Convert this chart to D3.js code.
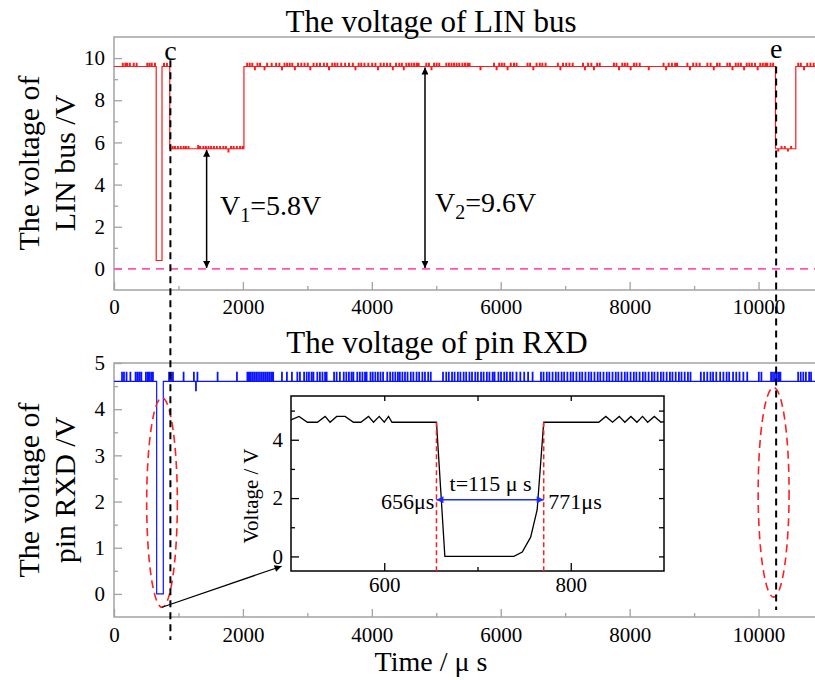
<!DOCTYPE html>
<html>
<head>
<meta charset="utf-8">
<script src="https://cdn.jsdelivr.net/npm/d3@7"></script>
<style>
  body { margin: 0; background: #fff; }
  svg text { font-family: "Liberation Serif", "Tinos", "Times New Roman", "Nimbus Roman", "DejaVu Serif", serif; }
</style>
</head>
<body>
<svg id="chart" width="815" height="680"></svg>
<script>
// --- LIN bus voltage: base levels [time µs, V] and noise spikes [time µs, V] ---
const lin_levels = [[0, 9.6], [655, 0.4], [745, 9.6], [865, 5.7], [2016, 9.6], [10263, 5.7], [10578, 9.6], [11000, 9.6]];
const lin_spikes = [
  [130, 9.75], [170, 9.75], [200, 9.75], [240, 9.75], [300, 9.75], [345, 9.75], [510, 9.75], [545, 9.75], [580, 9.75], [630, 9.75],
  [770, 9.75], [815, 9.75],
  [905, 5.8], [940, 5.8], [985, 5.8], [1030, 5.8], [1075, 5.8], [1110, 5.8], [1150, 5.8], [1300, 5.85], [1330, 5.8], [1380, 5.8],
  [1420, 5.8], [1460, 5.8], [1500, 5.8], [1545, 5.8], [1590, 5.8], [1640, 5.8], [1690, 5.8], [1730, 5.8], [1770, 5.55], [1810, 5.8],
  [1850, 5.8], [1900, 5.8], [1950, 5.8], [1990, 5.8],
  [2060, 9.75], [2100, 9.75], [2140, 9.75], [2180, 9.45], [2220, 9.75], [2260, 9.75], [2330, 9.45], [2370, 9.75], [2440, 9.75],
  [2510, 9.75], [2560, 9.75], [2600, 9.45], [2640, 9.75], [2680, 9.75], [2720, 9.75], [2760, 9.75], [2800, 9.45], [2850, 9.75],
  [2900, 9.75], [2950, 9.75], [3000, 9.75], [3040, 9.45], [3090, 9.75], [3140, 9.75], [3190, 9.75], [3250, 9.75], [3300, 9.75],
  [3330, 9.45], [3380, 9.75], [3420, 9.75], [3460, 9.75], [3520, 9.75], [3580, 9.75], [3640, 9.75], [3700, 9.75], [3740, 9.45],
  [3790, 9.75], [3830, 9.75], [3880, 9.75], [3940, 9.75], [4000, 9.75], [4050, 9.75], [4090, 9.45], [4130, 9.75], [4180, 9.75],
  [4230, 9.75], [4280, 9.75], [4320, 9.45], [4370, 9.75], [4420, 9.75],
  [4460, 9.75], [4490, 9.45], [4530, 9.75], [4570, 9.75], [4610, 9.75], [4650, 9.75], [4690, 9.75], [4720, 9.75],
  [4840, 9.75], [4880, 9.75], [4920, 9.45], [4960, 9.75], [5000, 9.75], [5040, 9.75],
  [5150, 9.75], [5190, 9.75], [5230, 9.75], [5270, 9.75], [5310, 9.75], [5350, 9.75], [5400, 9.75], [5440, 9.75], [5480, 9.75], [5510, 9.75],
  [5680, 9.45],
  [5890, 9.75], [5930, 9.45], [5970, 9.75], [6010, 9.75], [6050, 9.75], [6100, 9.45], [6150, 9.75], [6200, 9.75], [6240, 9.75],
  [6410, 9.75], [6450, 9.75], [6500, 9.45], [6550, 9.75], [6600, 9.75], [6640, 9.75], [6690, 9.75],
  [6880, 9.75], [6920, 9.45], [6960, 9.75], [7010, 9.75], [7060, 9.75], [7110, 9.75],
  [7270, 9.75], [7300, 9.45], [7350, 9.75], [7400, 9.75], [7440, 9.45], [7490, 9.75], [7530, 9.75],
  [7750, 9.75], [7790, 9.75], [7830, 9.45], [7880, 9.75], [7920, 9.75], [7960, 9.75], [8010, 9.45], [8060, 9.75], [8100, 9.75], [8150, 9.75],
  [8290, 9.45],
  [8520, 9.75], [8560, 9.45], [8600, 9.75], [8650, 9.75], [8700, 9.75], [8730, 9.75],
  [8890, 9.75], [8930, 9.45], [8980, 9.75], [9030, 9.75], [9080, 9.75],
  [9200, 9.75], [9250, 9.75], [9300, 9.45], [9350, 9.75], [9390, 9.75],
  [9510, 9.75], [9550, 9.75], [9590, 9.45], [9640, 9.75], [9680, 9.75], [9720, 9.75], [9770, 9.45], [9810, 9.75], [9850, 9.75],
  [9890, 9.75], [9940, 9.75], [9980, 9.45], [10020, 9.75], [10060, 9.75], [10100, 9.75], [10130, 9.75], [10180, 9.75], [10220, 9.75],
  [10300, 5.6], [10350, 5.8], [10400, 5.8], [10450, 5.6], [10500, 5.8],
  [10610, 9.75], [10650, 9.75], [10700, 9.45], [10750, 9.75], [10800, 9.75], [10850, 9.75]
];

// --- RXD pin voltage ---
const rxd_levels = [[0, 4.6], [662, 0], [765, 4.6], [11000, 4.6]];
const rxd_spikes = [
  [120, 4.8], [150, 4.8], [190, 4.8], [250, 4.8], [330, 4.8], [360, 4.8], [390, 4.8], [420, 4.8],
  [490, 4.8], [520, 4.8], [545, 4.8], [575, 4.8], [600, 4.8],
  [850, 4.8], [880, 4.8], [910, 4.8], [1075, 4.8], [1235, 4.8], [1267, 4.4], [1290, 4.8], [1603, 4.8], [1903, 4.8],
  [2065, 4.8], [2090, 4.8], [2110, 4.8], [2140, 4.8], [2170, 4.8], [2200, 4.8], [2230, 4.8], [2260, 4.8], [2290, 4.8],
  [2320, 4.8], [2350, 4.8], [2380, 4.8], [2410, 4.8], [2440, 4.8], [2465, 4.8],
  [2601, 4.8], [2678, 4.8], [2756, 4.8], [2840, 4.8], [2880, 4.8], [2945, 4.8], [2985, 4.8], [3020, 4.8], [3060, 4.8], [3090, 4.8],
  [3150, 4.8], [3190, 4.8], [3230, 4.8], [3270, 4.8], [3295, 4.8], [3410, 4.8], [3450, 4.8], [3500, 4.8],
  [3560, 4.8], [3600, 4.8], [3640, 4.8], [3680, 4.8], [3710, 4.8], [3770, 4.8], [3810, 4.8], [3850, 4.8], [3890, 4.8], [3915, 4.8],
  [3975, 4.8], [4010, 4.8], [4050, 4.8], [4090, 4.8], [4130, 4.8], [4170, 4.8], [4235, 4.8], [4280, 4.8], [4320, 4.8], [4360, 4.8],
  [4400, 4.8], [4430, 4.8],
  [4470, 4.8], [4510, 4.8], [4550, 4.8], [4600, 4.8], [4640, 4.8], [4690, 4.8], [4730, 4.8], [4780, 4.8], [4820, 4.8], [4870, 4.8], [4910, 4.8],
  [5100, 4.8], [5150, 4.8], [5190, 4.8], [5240, 4.8], [5280, 4.8], [5330, 4.8], [5370, 4.8], [5420, 4.8], [5460, 4.8], [5510, 4.8],
  [5550, 4.8], [5600, 4.8], [5640, 4.8], [5690, 4.8], [5730, 4.8], [5780, 4.8], [5820, 4.8], [5870, 4.8], [5900, 4.8], [5960, 4.8],
  [6000, 4.8], [6050, 4.8], [6090, 4.8], [6140, 4.8], [6180, 4.8], [6240, 4.8], [6300, 4.8], [6360, 4.8], [6420, 4.8], [6490, 4.8],
  [6620, 4.8], [6660, 4.8], [6710, 4.8], [6750, 4.8], [6800, 4.8], [6850, 4.8], [6890, 4.8], [6940, 4.8], [6980, 4.8], [7030, 4.8],
  [7080, 4.8], [7120, 4.8], [7170, 4.8], [7220, 4.8], [7260, 4.8], [7310, 4.8], [7360, 4.8], [7400, 4.8], [7450, 4.8], [7500, 4.8],
  [7540, 4.8], [7590, 4.8], [7640, 4.8], [7680, 4.8], [7730, 4.8], [7780, 4.8], [7820, 4.8], [7870, 4.8], [7920, 4.8], [7960, 4.8],
  [8010, 4.8], [8060, 4.8], [8100, 4.8], [8150, 4.8], [8200, 4.8], [8240, 4.8], [8290, 4.8], [8340, 4.8], [8380, 4.8], [8430, 4.8],
  [8480, 4.8], [8520, 4.8], [8570, 4.8], [8620, 4.8], [8660, 4.8], [8710, 4.8], [8760, 4.8], [8800, 4.8], [8850, 4.8], [8900, 4.8], [8940, 4.8],
  [9100, 4.8], [9150, 4.8], [9200, 4.8], [9250, 4.8], [9290, 4.8], [9340, 4.8], [9400, 4.8], [9450, 4.8], [9500, 4.8], [9540, 4.8],
  [9600, 4.8], [9650, 4.8], [9700, 4.8], [9760, 4.8], [9820, 4.8],
  [10000, 4.8], [10040, 4.8], [10190, 4.8], [10220, 4.8], [10250, 4.8], [10280, 4.8], [10310, 4.8], [10335, 4.8],
  [10610, 4.8], [10650, 4.8], [10690, 4.8], [10730, 4.8], [10780, 4.8], [10810, 4.8]
];

// --- zoomed RXD edge (inset) ---
const inset_time = [500, 508.6, 517.6, 528.3, 536.6, 541.9, 549, 558, 567, 574.9, 583.1, 588.5, 594.6, 600, 604.6, 608.3,
  656, 665, 739, 748, 757, 764, 771, 830, 837.6, 844.8, 852, 858, 864.5, 871, 877, 882.5, 889.6, 896.8, 900];
const inset_volt = [4.68, 4.8, 4.6, 4.6, 4.8, 4.6, 4.8, 4.8, 4.6, 4.6, 4.8, 4.6, 4.8, 4.6, 4.8, 4.6,
  4.6, 0, 0, 0.15, 0.66, 1.6, 4.6, 4.6, 4.8, 4.6, 4.8, 4.6, 4.8, 4.6, 4.8, 4.6, 4.8, 4.6, 4.62];
const inset_edges = [656, 771];

// --- ticks ---
const main_x_ticks = [0, 2000, 4000, 6000, 8000, 10000];
const main_x_minor = [1000, 3000, 5000, 7000, 9000];
const lin_y_ticks = [0, 2, 4, 6, 8, 10];
const lin_y_minor = [1, 3, 5, 7, 9];
const rxd_y_ticks = [0, 1, 2, 3, 4, 5];
const rxd_y_minor = [0.5, 1.5, 2.5, 3.5, 4.5];
const inset_x_ticks = [600, 800];
const inset_x_minor = [700];
const inset_y_ticks = [0, 2, 4];
const inset_y_minor = [1, 3, 5];

// markers c / e
const markers = [{label: "c", time: 875, y_top: 9.9, y_bottom: -1.0, text_y: 9.93},
                 {label: "e", time: 10273, y_top: 9.6, y_bottom: -0.35, text_y: 10.0}];

const FONT = '"Liberation Serif", "Tinos", "Times New Roman", "Nimbus Roman", "DejaVu Serif", serif';
const svg = d3.select("#chart");

// arrow heads
const defs = svg.append("defs");
[["head_black", "#000"], ["head_blue", "#1a2cff"]].forEach(([id, color]) => {
  defs.append("marker")
      .attr("id", id)
      .attr("viewBox", "0 0 10 10")
      .attr("refX", 10)
      .attr("refY", 5)
      .attr("markerWidth", 9)
      .attr("markerHeight", 7)
      .attr("markerUnits", "userSpaceOnUse")
      .attr("orient", "auto-start-reverse")
      .append("path")
        .attr("d", "M0,0 L10,5 L0,10 Z")
        .attr("fill", color);
});

class Panel {
  constructor(x, y, frame_color){
    this.x = x;
    this.y = y;
    this.frame_color = frame_color;
    this.g = svg.append("g");
  }
  draw_frame = (fill) => {
    const [x0, x1] = this.x.range();
    const [y0, y1] = this.y.range();
    this.g.append("rect")
        .attr("x", x0).attr("y", y1)
        .attr("width", x1 - x0).attr("height", y0 - y1)
        .attr("fill", fill)
        .attr("stroke", this.frame_color)
        .attr("stroke-width", 1.5);
  }
  #style_axis = (sel) => {
    sel.attr("font-family", FONT).attr("font-size", 21);
    sel.select(".domain").remove();
    sel.selectAll("line").attr("stroke", this.frame_color).attr("stroke-width", 1.3);
    sel.selectAll("text").attr("fill", "#000");
  }
  draw_axes = (o) => {
    const [x0, x1] = this.x.range();
    const [y0, y1] = this.y.range();
    const fmt = d3.format("");
    // bottom: major with labels, minor without
    this.g.append("g").attr("transform", `translate(0,${y0})`)
        .call(d3.axisBottom(this.x).tickValues(o.x_major).tickSizeInner(-8).tickSizeOuter(0).tickPadding(o.pad_x).tickFormat(fmt))
        .call(this.#style_axis);
    this.g.append("g").attr("transform", `translate(0,${y0})`)
        .call(d3.axisBottom(this.x).tickValues(o.x_minor).tickSize(-4).tickFormat(""))
        .call(this.#style_axis);
    this.g.append("g").attr("transform", `translate(${x0},0)`)
        .call(d3.axisLeft(this.y).tickValues(o.y_major).tickSizeInner(-8).tickSizeOuter(0).tickPadding(o.pad_y).tickFormat(fmt))
        .call(this.#style_axis);
    this.g.append("g").attr("transform", `translate(${x0},0)`)
        .call(d3.axisLeft(this.y).tickValues(o.y_minor).tickSize(-4).tickFormat(""))
        .call(this.#style_axis);
    if(o.mirror){
      this.g.append("g").attr("transform", `translate(0,${y1})`)
          .call(d3.axisTop(this.x).tickValues(o.x_major.concat(o.x_minor)).tickSize(-5).tickFormat(""))
          .call(this.#style_axis);
      this.g.append("g").attr("transform", `translate(${x1},0)`)
          .call(d3.axisRight(this.y).tickValues(o.y_major.concat(o.y_minor)).tickSize(-5).tickFormat(""))
          .call(this.#style_axis);
    }
  }
  draw_line = (points, color, width) => {
    this.g.append("path")
        .datum(points)
        .attr("fill", "none")
        .attr("stroke", color)
        .attr("stroke-width", width)
        .attr("stroke-linejoin", "miter")
        .attr("d", d3.line().x(d => this.x(d[0])).y(d => this.y(d[1])));
  }
}

// step trace from base levels plus narrow noise pulses
const build_trace = (levels, spikes, spike_width) => {
  const points = [];
  for(let i = 0; i < levels.length - 1; i++){
    const [t0, level] = levels[i];
    const t1 = levels[i + 1][0];
    points.push([t0, level]);
    spikes.filter(s => s[0] >= t0 && s[0] < t1).forEach(s => {
      points.push([s[0], level], [s[0], s[1]], [s[0] + spike_width, s[1]], [s[0] + spike_width, level]);
    });
    points.push([t1, level]);
  }
  return points;
};

// ---------- top panel: LIN bus ----------
const lin_panel = new Panel(
  d3.scaleLinear().domain([0, 11000]).range([114, 823]),
  d3.scaleLinear().domain([-1, 11]).range([290, 37]),
  "#a3a3a3");
lin_panel.draw_frame("none");
lin_panel.draw_axes({x_major: main_x_ticks, x_minor: main_x_minor, y_major: lin_y_ticks, y_minor: lin_y_minor, pad_x: 9, pad_y: 9});

// zero reference
lin_panel.g.append("line")
    .attr("x1", lin_panel.x(0)).attr("x2", lin_panel.x(11000))
    .attr("y1", lin_panel.y(0)).attr("y2", lin_panel.y(0))
    .attr("stroke", "#ff55bb").attr("stroke-width", 1.6).attr("stroke-dasharray", "8,6");

lin_panel.draw_line(build_trace(lin_levels, lin_spikes, 12), "#ff1a1a", 1.2);

// V1 / V2 arrows
const level_arrows = [{time: 1437, from: 5.7, label: "1", value: "=5.8V", text_time: 1644, text_v: 2.58},
                      {time: 4825, from: 9.6, label: "2", value: "=9.6V", text_time: 4979, text_v: 2.72}];
level_arrows.forEach(a => {
  lin_panel.g.append("line")
      .attr("x1", lin_panel.x(a.time)).attr("x2", lin_panel.x(a.time))
      .attr("y1", lin_panel.y(a.from) + 1).attr("y2", lin_panel.y(0) - 1)
      .attr("stroke", "#000").attr("stroke-width", 1.5)
      .attr("marker-start", "url(#head_black)")
      .attr("marker-end", "url(#head_black)");
  const t = lin_panel.g.append("text")
      .attr("x", lin_panel.x(a.text_time)).attr("y", lin_panel.y(a.text_v))
      .attr("font-size", 28);
  t.append("tspan").text("V");
  t.append("tspan").attr("font-size", 20).attr("dy", 7).text(a.label);
  t.append("tspan").attr("dy", -7).text(a.value);
});

// ---------- bottom panel: RXD ----------
const rxd_panel = new Panel(
  d3.scaleLinear().domain([0, 11000]).range([114, 823]),
  d3.scaleLinear().domain([-0.5, 5]).range([617, 363]),
  "#a3a3a3");
rxd_panel.draw_frame("none");
rxd_panel.draw_axes({x_major: main_x_ticks, x_minor: main_x_minor, y_major: rxd_y_ticks, y_minor: rxd_y_minor, pad_x: 10, pad_y: 9});
rxd_panel.draw_line(build_trace(rxd_levels, rxd_spikes, 9), "#0a14ff", 1.2);

// dashed ellipses round the edges
const ellipses = [{time: 745, v: 1.98, rt: 238, rv: 2.27}, {time: 10234, v: 2.2, rt: 240, rv: 2.27}];
ellipses.forEach(e => {
  rxd_panel.g.append("ellipse")
      .attr("cx", rxd_panel.x(e.time)).attr("cy", rxd_panel.y(e.v))
      .attr("rx", rxd_panel.x(e.time + e.rt) - rxd_panel.x(e.time))
      .attr("ry", rxd_panel.y(0) - rxd_panel.y(e.rv))
      .attr("fill", "none")
      .attr("stroke", "#ff2020").attr("stroke-width", 1.6)
      .attr("stroke-dasharray", "8,5");
});

// pointer from the first ellipse to the inset
rxd_panel.g.append("line")
    .attr("x1", rxd_panel.x(745)).attr("y1", rxd_panel.y(-0.29))
    .attr("x2", rxd_panel.x(2600)).attr("y2", rxd_panel.y(0.6))
    .attr("stroke", "#000").attr("stroke-width", 1.2)
    .attr("marker-end", "url(#head_black)");

// ---------- inset ----------
const inset_panel = new Panel(
  d3.scaleLinear().domain([500, 900]).range([291, 664]),
  d3.scaleLinear().domain([-0.5, 5.5]).range([571, 396]),
  "#000");
inset_panel.draw_frame("#fff");
inset_panel.draw_axes({x_major: inset_x_ticks, x_minor: inset_x_minor, y_major: inset_y_ticks, y_minor: inset_y_minor, pad_x: 6, pad_y: 8, mirror: true});
inset_panel.draw_line(d3.zip(inset_time, inset_volt), "#000", 1.3);

inset_edges.forEach(t => {
  inset_panel.g.append("line")
      .attr("x1", inset_panel.x(t)).attr("x2", inset_panel.x(t))
      .attr("y1", inset_panel.y(4.6)).attr("y2", inset_panel.y(-0.6))
      .attr("stroke", "#ff2020").attr("stroke-width", 1.5).attr("stroke-dasharray", "5,3");
});
inset_panel.g.append("line")
    .attr("x1", inset_panel.x(inset_edges[0])).attr("x2", inset_panel.x(inset_edges[1]))
    .attr("y1", inset_panel.y(1.94)).attr("y2", inset_panel.y(1.94))
    .attr("stroke", "#1a2cff").attr("stroke-width", 1.5)
    .attr("marker-start", "url(#head_blue)")
    .attr("marker-end", "url(#head_blue)");
inset_panel.g.append("text")
    .attr("x", inset_panel.x(714)).attr("y", inset_panel.y(2.26))
    .attr("text-anchor", "middle").attr("font-size", 22)
    .text("t=115 μ s");
inset_panel.g.append("text")
    .attr("x", inset_panel.x(653.8)).attr("y", inset_panel.y(1.61))
    .attr("text-anchor", "end").attr("font-size", 22)
    .text(inset_edges[0] + "μs");
inset_panel.g.append("text")
    .attr("x", inset_panel.x(776)).attr("y", inset_panel.y(1.61))
    .attr("font-size", 22)
    .text(inset_edges[1] + "μs");
inset_panel.g.append("text")
    .attr("transform", "translate(258,496) rotate(-90)")
    .attr("text-anchor", "middle").attr("font-size", 21)
    .text("Voltage / V");

// ---------- c / e markers spanning both panels ----------
markers.forEach(m => {
  svg.append("line")
      .attr("x1", lin_panel.x(m.time)).attr("x2", lin_panel.x(m.time))
      .attr("y1", lin_panel.y(m.y_top)).attr("y2", rxd_panel.y(m.y_bottom))
      .attr("stroke", "#000").attr("stroke-width", 2)
      .attr("stroke-dasharray", "7,5");
  svg.append("text")
      .attr("x", lin_panel.x(m.time)).attr("y", lin_panel.y(m.text_y))
      .attr("text-anchor", "middle").attr("font-size", 28)
      .text(m.label);
});

// ---------- titles and axis labels ----------
const titles = [{text: "The voltage of LIN bus", x: 431, y: 32}, {text: "The voltage of pin RXD", x: 437, y: 353}];
titles.forEach(t => {
  svg.append("text").attr("x", t.x).attr("y", t.y)
      .attr("text-anchor", "middle").attr("font-size", 31).text(t.text);
});
const y_labels = [{lines: ["The voltage of", "LIN bus /V"], cy: 163}, {lines: ["The voltage of", "pin RXD /V"], cy: 490}];
y_labels.forEach(l => {
  l.lines.forEach((line, i) => {
    svg.append("text")
        .attr("transform", `translate(${39 + i * 36},${l.cy}) rotate(-90)`)
        .attr("text-anchor", "middle").attr("font-size", 30)
        .text(line);
  });
});
svg.append("text").attr("x", 431).attr("y", 671)
    .attr("text-anchor", "middle").attr("font-size", 28)
    .text("Time / μ s");
</script>
</body>
</html>
